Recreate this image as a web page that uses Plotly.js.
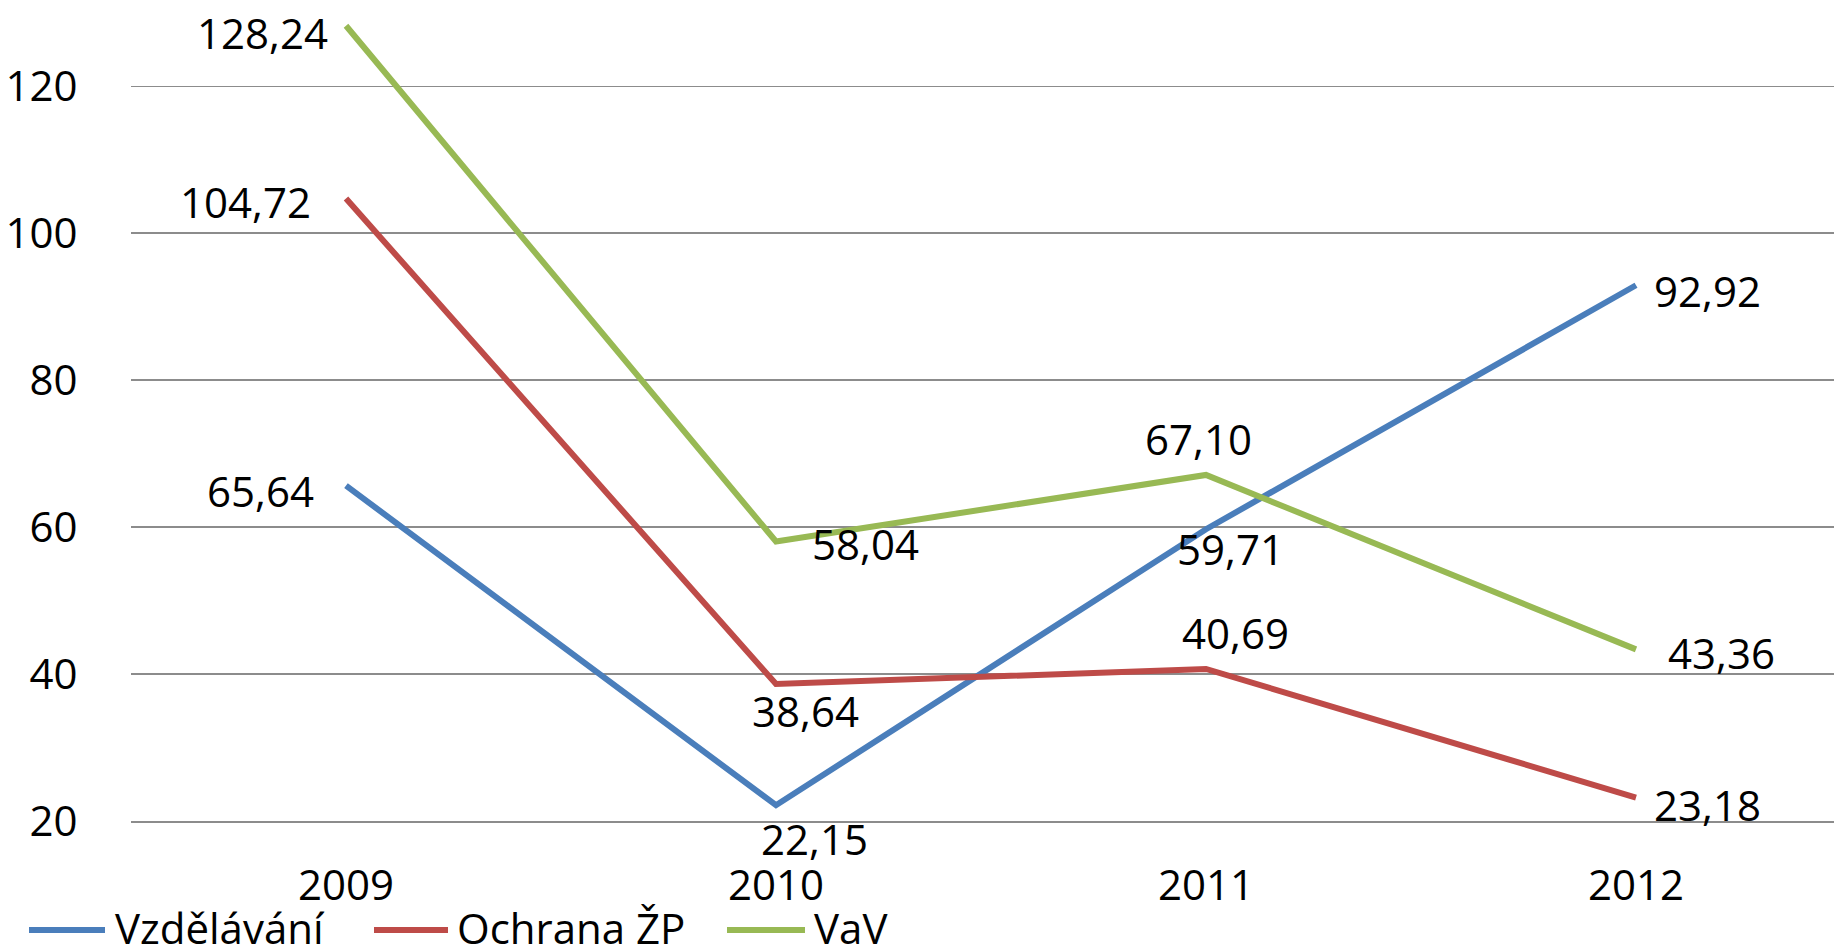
<!DOCTYPE html>
<html>
<head>
<meta charset="utf-8">
<script src="https://cdn.plot.ly/plotly-3.0.1.min.js"></script>
<style>html,body{margin:0;padding:0;background:#fff;}#chart{width:1834px;height:950px;}</style>
</head>
<body>
<div id="chart"></div>
<script>
// ---- data ----
const years = ["2009", "2010", "2011", "2012"];
const seriesNames = ["Vzdělávání", "Ochrana ŽP", "VaV"];
const vzdelavani = [65.64, 22.15, 59.71, 92.92];
const ochranaZP = [104.72, 38.64, 40.69, 23.18];
const vav = [128.24, 58.04, 67.10, 43.36];
const yTicks = [20, 40, 60, 80, 100, 120];

// ---- style ----
const colors = ["#4A7EBB", "#BE4B48", "#98B954"];
const FONT = "Open Sans, Noto Sans, sans-serif";
const FS = 42;
const W = 1834, H = 950;
const ML = 131, MB = 129;
const plotW = W - ML, plotH = H - MB;
// label placement per series/point: [xanchor, xshift, yshift]
const labelPos = [
  [["right", -30, -5], ["center", 38, -33], ["center", 24, -19], ["left", 16, -5]],
  [["right", -33, -3], ["center", 29, -26], ["center", 29, 36], ["left", 16, -7]],
  [["right", -16, -7], ["left", 34, -2], ["center", -8, 36], ["left", 30, -3]]
];
// legend pixel layout: [lineStart, lineEnd, textStart]
const legendPx = [[29, 105, 113], [374, 448, 455], [727, 805, 812]];
const legendY = 928;

const allSeries = [vzdelavani, ochranaZP, vav];
const fmt = v => v.toFixed(2).replace(".", ",");

const traces = allSeries.map((vals, i) => ({
  x: years, y: vals, type: "scatter", mode: "lines",
  name: seriesNames[i],
  line: {color: colors[i], width: 6},
  hoverinfo: "skip"
}));

const annotations = [];
allSeries.forEach((vals, i) => {
  vals.forEach((v, j) => {
    const p = labelPos[i][j];
    annotations.push({
      x: j, y: v, xref: "x", yref: "y",
      text: fmt(v), showarrow: false,
      xanchor: p[0], yanchor: "middle",
      xshift: p[1], yshift: p[2],
      font: {family: FONT, size: FS, color: "#000"}
    });
  });
});

const px2x = px => (px - ML) / plotW;
const px2y = py => (plotH - py) / plotH;
const shapes = [];
seriesNames.forEach((n, i) => {
  const lp = legendPx[i];
  shapes.push({
    type: "line", xref: "paper", yref: "paper",
    x0: px2x(lp[0]), x1: px2x(lp[1]), y0: px2y(930), y1: px2y(930),
    line: {color: colors[i], width: 6}
  });
  annotations.push({
    xref: "paper", yref: "paper", x: px2x(lp[2]), y: px2y(legendY),
    xanchor: "left", yanchor: "middle", showarrow: false,
    text: n, font: {family: FONT, size: FS, color: "#000"}
  });
});

const layout = {
  width: W, height: H,
  margin: {l: ML, r: 0, t: 0, b: MB, pad: 0},
  paper_bgcolor: "#fff", plot_bgcolor: "#fff",
  showlegend: false,
  font: {family: FONT, size: FS, color: "#000"},
  xaxis: {
    type: "category",
    range: [-0.5, -0.5 + plotW / 430],
    showgrid: false, zeroline: false,
    showline: true, linecolor: "#8c8c8c", linewidth: 1.5,
    ticks: "outside", ticklen: 27, tickcolor: "rgba(0,0,0,0)",
    tickfont: {family: FONT, size: FS, color: "#000"}
  },
  yaxis: {
    range: [20, 20 + plotH / 7.347],
    tickvals: yTicks, ticktext: yTicks.map(String),
    showgrid: true, gridcolor: "#8c8c8c", gridwidth: 1.5,
    zeroline: false, showline: false,
    ticks: "outside", ticklen: 44, tickcolor: "rgba(0,0,0,0)",
    tickfont: {family: FONT, size: FS, color: "#000"}
  },
  annotations: annotations,
  shapes: shapes
};

Plotly.newPlot("chart", traces, layout, {staticPlot: true, displayModeBar: false});
</script>
</body>
</html>
